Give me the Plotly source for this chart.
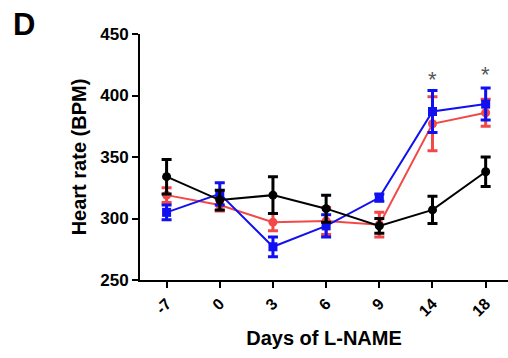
import plotly.graph_objects as go

days = ["-7", "0", "3", "6", "9", "14", "18"]

black_mean = [334, 315, 319, 308, 294, 307, 338]
black_err = [14, 8, 15, 11, 6, 11, 12]

blue_mean = [305, 320, 277, 294, 317, 387, 393]
blue_err = [6, 9, 8, 9, 3, 17, 13]

red_mean = [319, 311, 297, 298, 295, 377, 386]
red_err = [6, 5, 7, 11, 10, 22, 11]

star_days = ["14", "18"]
star_y = [413, 417]

FONT = "Liberation Sans"
x_idx = list(range(len(days)))


def series(means, errs, color, symbol):
    return go.Scatter(
        x=x_idx, y=means,
        mode="lines+markers",
        line=dict(color=color, width=2),
        marker=dict(symbol=symbol, size=9, color=color),
        error_y=dict(type="data", array=errs, visible=True,
                     color=color, thickness=3, width=5),
        showlegend=False,
    )


fig = go.Figure()
fig.add_trace(series(red_mean, red_err, "#f24848", "circle"))
fig.add_trace(series(blue_mean, blue_err, "#1010f0", "square"))
fig.add_trace(series(black_mean, black_err, "#000000", "circle"))

for d, y in zip(star_days, star_y):
    fig.add_annotation(x=days.index(d), y=y, text="*", showarrow=False,
                       yanchor="middle",
                       font=dict(family=FONT, size=22, color="#555555"))

fig.add_annotation(xref="paper", yref="paper", x=-0.315, y=1.04,
                   xanchor="center", yanchor="middle", text="<b>D</b>",
                   showarrow=False,
                   font=dict(family=FONT, size=31, color="#000000"))

fig.update_layout(
    width=508, height=358,
    margin=dict(l=140, r=0, t=34, b=78),
    plot_bgcolor="white", paper_bgcolor="white",
    font=dict(family=FONT, color="#000000"),
)
fig.update_xaxes(
    tickmode="array", tickvals=x_idx, ticktext=[f"<b>{d}</b>" for d in days],
    range=[-0.5, 6.42], tickangle=-45,
    showline=True, linecolor="black", linewidth=2,
    ticks="outside", ticklen=6, tickwidth=2, tickcolor="black",
    showgrid=False, zeroline=False,
    tickfont=dict(family=FONT, size=16),
    title=dict(text="<b>Days of L-NAME</b>", font=dict(family=FONT, size=20), standoff=12),
)
fig.update_yaxes(
    range=[250, 450], tickvals=[250, 300, 350, 400, 450],
    ticktext=["<b>250</b>", "<b>300</b>", "<b>350</b>", "<b>400</b>", "<b>450</b>"],
    showline=True, linecolor="black", linewidth=2,
    ticks="outside", ticklen=6, tickwidth=2, tickcolor="black",
    showgrid=False, zeroline=False,
    tickfont=dict(family=FONT, size=17),
    title=dict(text="<b>Heart rate (BPM)</b>", font=dict(family=FONT, size=20), standoff=8),
)

fig.write_html("out.html")
